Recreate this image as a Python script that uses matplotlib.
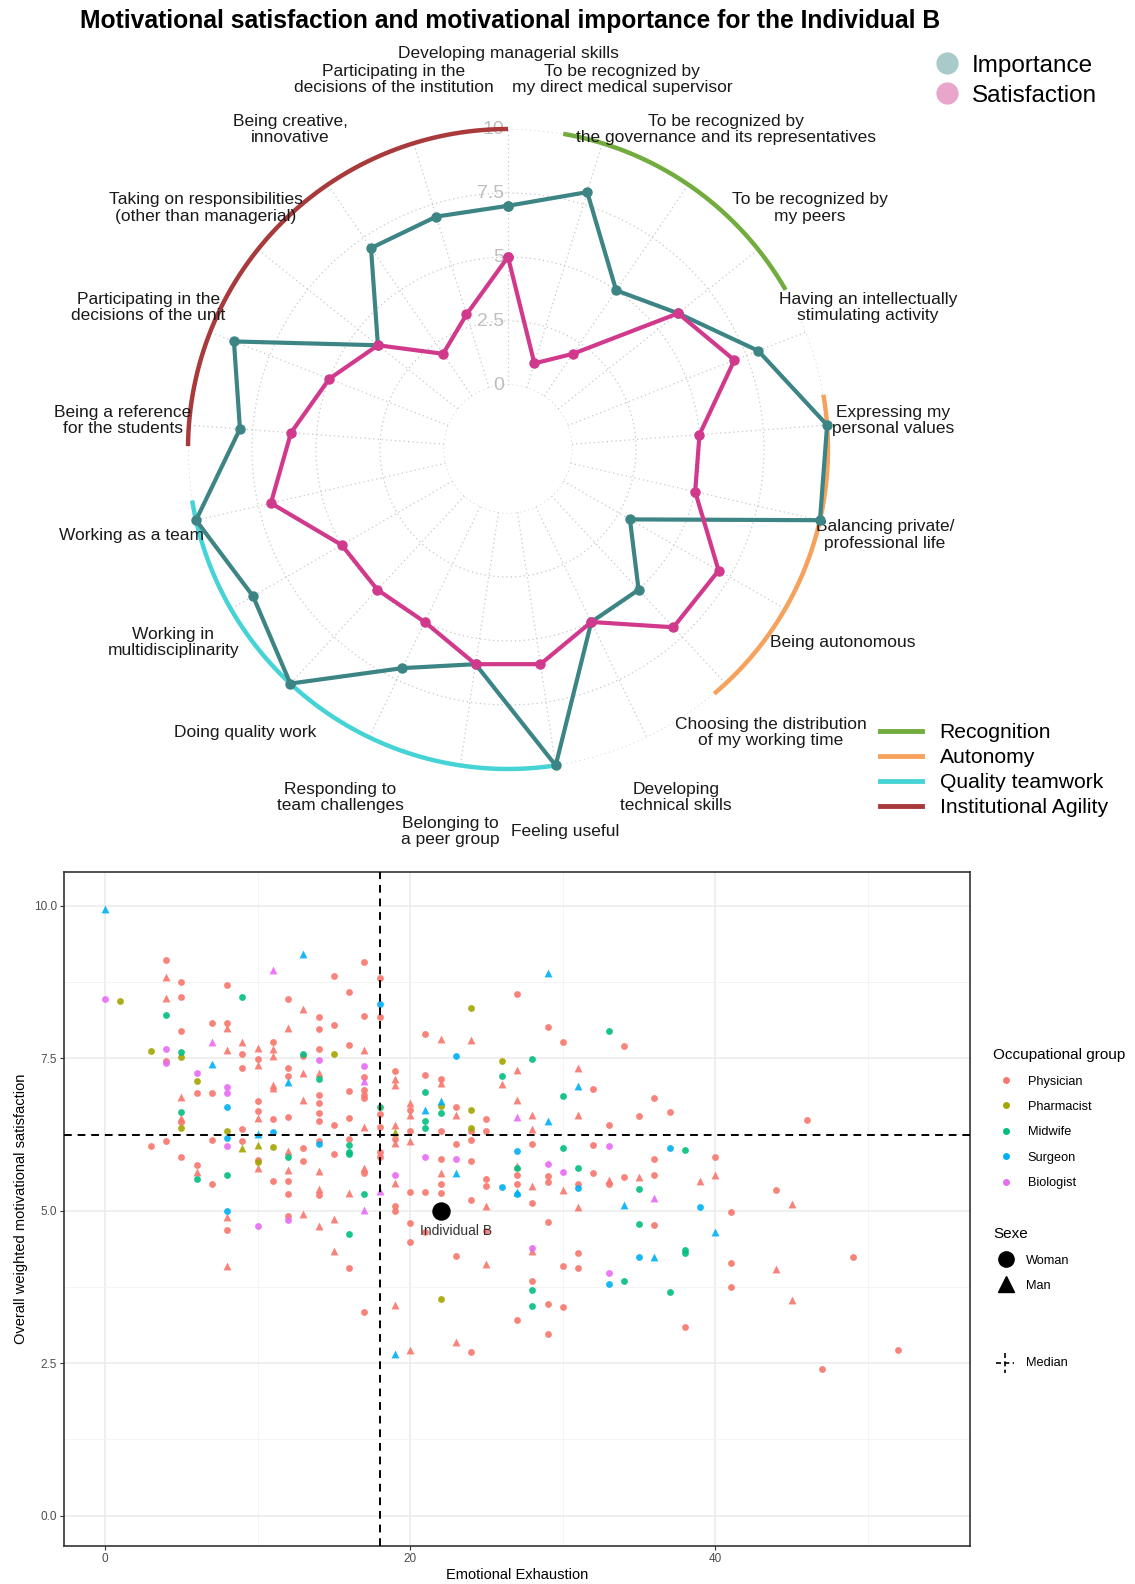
"""
Radar of motivational importance / satisfaction for one person, plus the
overall satisfaction vs emotional exhaustion scatter for the whole sample.
Saves out.png.
"""

import numpy as np
import matplotlib
matplotlib.use("Agg")  # non-interactive backend, saves to file
import matplotlib.pyplot as plt
import matplotlib.transforms as mtransforms
from matplotlib.lines import Line2D

plt.rcParams['font.family'] = ['Liberation Sans', 'DejaVu Sans']

W, H, DPI = 1135, 1584, 100

# ── Radar data ────────────────────────────────────────────────────────────────

ITEMS = [
    "Developing managerial skills",
    "To be recognized by\nmy direct medical supervisor",
    "To be recognized by\nthe governance and its representatives",
    "To be recognized by\nmy peers",
    "Having an intellectually\nstimulating activity",
    "Expressing my\npersonal values",
    "Balancing private/\nprofessional life",
    "Being autonomous",
    "Choosing the distribution\nof my working time",
    "Developing\ntechnical skills",
    "Feeling useful",
    "Belonging to\na peer group",
    "Responding to\nteam challenges",
    "Doing quality work",
    "Working in\nmultidisciplinarity",
    "Working as a team",
    "Being a reference\nfor the students",
    "Participating in the\ndecisions of the unit",
    "Taking on responsibilities\n(other than managerial)",
    "Being creative,\ninnovative",
    "Participating in the\ndecisions of the institution",
]
IMPORTANCE   = [7, 8, 5, 6, 8, 10, 10, 3, 5, 5, 10, 6, 7, 10, 9, 10, 8, 9, 4, 7, 7]
SATISFACTION = [5, 1, 2, 6, 7, 5, 5, 7, 7, 5, 6, 6, 5, 5, 5, 7, 6, 5, 4, 2, 3]
R_TICKS = [0, 2.5, 5, 7.5, 10]
R_TICK_LABELS = ["0", "2.5", "5", "7.5", "10"]

# outer arcs: extent of each dimension, in units of item index
DIMENSIONS = ["Recognition", "Autonomy", "Quality teamwork", "Institutional Agility"]
DIM_SPANS  = [(0.58, 3.51), (4.68, 8.16), (10.0, 15.21), (15.78, 21.0)]
DIM_COLORS = ["#72AC3E", "#F6A25C", "#45D3D6", "#A83A3C"]

TEAL = "#3D8585"
PINK = "#D13A8C"

# ── Scatter data: (emotional exhaustion, weighted satisfaction) ───────────────

PHYSICIAN_WOMAN = [
    (4, 9.11), (5, 8.74), (5, 8.50), (8, 8.70), (17, 9.07), (15, 8.84), (16, 8.58),
    (12, 8.47), (14, 8.17), (14, 7.98), (15, 8.04), (17, 8.19), (18, 8.82), (18, 8.17),
    (5, 7.95), (7, 8.07), (8, 8.08), (11, 7.76), (10, 7.49), (9, 7.57), (9, 7.34),
    (4, 7.45), (6, 6.92), (7, 6.93), (5, 6.45), (7, 6.16), (9, 6.33), (9, 6.14),
    (10, 6.79), (10, 6.63), (10, 5.83), (11, 6.50), (11, 5.48), (12, 7.34), (12, 7.20),
    (12, 6.53), (12, 5.48), (12, 5.27), (13, 7.53), (13, 6.02), (13, 5.82), (14, 7.65),
    (14, 6.90), (14, 6.76), (14, 6.60), (14, 6.46), (14, 6.14), (14, 5.25), (15, 6.41),
    (15, 5.93), (16, 7.71), (16, 6.96), (16, 6.52), (16, 6.18), (17, 7.19), (17, 6.98),
    (17, 6.90), (17, 6.85), (17, 5.61), (18, 6.58), (18, 6.37), (18, 5.96), (18, 5.88),
    (3, 6.06), (4, 6.14), (5, 5.87), (6, 5.74), (7, 5.44),
    (27, 8.55), (21, 7.90), (29, 8.01), (30, 7.77), (34, 7.70), (32, 6.99), (36, 6.85),
    (19, 7.29), (20, 6.65), (21, 7.23), (22, 7.15), (22, 6.31), (23, 6.69), (24, 6.30),
    (25, 6.50), (25, 6.30), (19, 6.18), (20, 6.30), (33, 6.40), (35, 6.55), (23, 6.09),
    (24, 6.15), (22, 5.85), (24, 5.81), (28, 6.09), (32, 6.08), (36, 5.85), (22, 5.43),
    (25, 5.51), (25, 5.40), (27, 5.59), (27, 5.43), (29, 5.56), (29, 5.46), (31, 5.44),
    (32, 5.62), (33, 5.44), (34, 5.55), (36, 5.58), (20, 5.31), (21, 5.31), (22, 5.28),
    (24, 5.17), (37, 6.62), (46, 6.48), (40, 5.87), (44, 5.34),
    (8, 4.68), (12, 4.91), (16, 4.05), (17, 3.34),
    (19, 5.08), (19, 5.00), (20, 4.79), (20, 4.48), (21, 4.64), (28, 5.13), (29, 4.82),
    (36, 4.77), (25, 4.66), (23, 4.26), (31, 4.31), (30, 4.09), (31, 4.06), (28, 3.84),
    (29, 3.46), (30, 3.42), (27, 3.20), (29, 2.97), (24, 2.68),
    (38, 3.09), (41, 4.98), (41, 4.14), (41, 3.74), (49, 4.23), (52, 2.72), (47, 2.40),
]
PHYSICIAN_MAN = [
    (4, 8.83), (4, 8.49), (13, 8.30), (12, 8.00), (8, 7.99), (9, 7.76), (8, 7.63),
    (10, 7.66), (11, 7.65), (11, 7.53), (10, 7.39), (5, 6.86), (5, 6.51), (10, 6.52),
    (11, 7.06), (11, 7.01), (12, 5.98), (12, 5.66), (13, 7.25), (13, 6.81), (14, 7.25),
    (14, 5.64), (14, 5.36), (16, 5.28), (17, 7.63), (17, 6.37), (17, 5.69), (10, 5.69),
    (6, 5.63),
    (22, 7.81), (24, 7.79), (27, 7.30), (31, 7.34), (26, 7.08), (27, 6.82), (19, 7.15),
    (19, 7.06), (20, 6.76), (20, 6.57), (22, 7.09), (23, 6.56), (19, 6.40), (19, 6.10),
    (20, 6.14), (28, 6.56), (28, 6.34), (31, 6.56), (22, 5.61), (19, 5.45), (27, 5.73),
    (28, 5.40), (30, 5.33), (33, 5.50), (35, 5.55), (40, 5.59), (39, 5.49),
    (8, 4.89), (8, 4.09), (13, 4.95), (14, 4.74), (15, 4.86), (15, 4.34),
    (25, 5.08), (31, 5.05), (25, 4.13), (28, 4.34), (19, 3.45), (23, 2.85), (20, 2.71),
    (45, 5.11), (44, 4.04), (45, 3.53),
]
PHARMACIST_WOMAN = [
    (1, 8.43), (3, 7.61), (5, 7.52), (6, 7.13), (5, 6.36), (8, 6.31), (10, 5.80),
    (11, 6.04), (15, 7.57), (24, 8.32), (26, 7.45), (22, 6.71), (24, 6.65), (24, 6.36),
    (22, 3.55),
]
PHARMACIST_MAN = [(9, 6.02), (10, 6.08), (19, 6.28)]
MIDWIFE_WOMAN = [
    (4, 8.20), (9, 8.50), (5, 7.60), (5, 6.62), (12, 5.87), (13, 7.56), (14, 7.16),
    (16, 6.07), (16, 5.96), (16, 5.92), (17, 5.27), (18, 6.70), (6, 5.51), (8, 5.59),
    (33, 7.94), (28, 7.49), (26, 7.20), (30, 6.87), (21, 6.94), (22, 6.60), (21, 6.47),
    (21, 6.36), (30, 6.02), (27, 5.70), (31, 5.70), (35, 5.35), (38, 6.00), (16, 4.62),
    (35, 4.78), (34, 3.84), (28, 3.70), (28, 3.44), (38, 4.36), (38, 4.31), (37, 3.67),
]
MIDWIFE_MAN = []
SURGEON_WOMAN = [
    (18, 8.39), (8, 6.69), (8, 6.19), (11, 6.29), (14, 6.09), (23, 7.54), (27, 5.98),
    (26, 5.38), (27, 5.27), (31, 5.37), (37, 6.03), (8, 4.99), (33, 3.80), (35, 4.24),
    (39, 5.05),
]
SURGEON_MAN = [
    (0, 9.95), (13, 9.20), (7, 7.41), (12, 7.11), (10, 6.26), (29, 8.89), (31, 7.04),
    (22, 6.79), (21, 6.65), (29, 6.46), (23, 5.62), (27, 5.30), (34, 5.09), (36, 4.24),
    (40, 4.64), (19, 2.65),
]
BIOLOGIST_WOMAN = [
    (0, 8.47), (4, 7.64), (4, 7.42), (6, 7.25), (8, 7.03), (8, 6.92), (8, 6.06),
    (14, 7.47), (17, 7.37), (21, 5.87), (23, 5.85), (33, 6.05), (19, 5.58), (29, 5.76),
    (30, 5.63), (10, 4.75), (12, 4.84), (28, 4.38), (33, 3.98),
]
BIOLOGIST_MAN = [(11, 8.95), (7, 7.77), (17, 7.12), (18, 5.32), (27, 6.53), (36, 5.20), (17, 5.01)]

GROUPS = ["Physician", "Pharmacist", "Midwife", "Surgeon", "Biologist"]
GROUP_COLORS = ["#F8766D", "#A3A500", "#00BF7D", "#00B0F6", "#E76BF3"]
GROUP_POINTS = [
    (PHYSICIAN_WOMAN, PHYSICIAN_MAN),
    (PHARMACIST_WOMAN, PHARMACIST_MAN),
    (MIDWIFE_WOMAN, MIDWIFE_MAN),
    (SURGEON_WOMAN, SURGEON_MAN),
    (BIOLOGIST_WOMAN, BIOLOGIST_MAN),
]
INDIVIDUAL_B = (22, 5.0)
MEDIAN_EE  = 18
MEDIAN_SAT = 6.24


def fx(px):
    return px / W


def fy(py):
    return 1 - py / H


fig = plt.figure(figsize=(W / DPI, H / DPI), dpi=DPI)

fig.text(fx(510), fy(21),
         "Motivational satisfaction and motivational importance for the Individual B",
         ha="center", va="center", fontsize=17.7, fontweight="bold")

# ── Radar ─────────────────────────────────────────────────────────────────────

CX, CY, R_OUT = 508, 449, 320
ax = fig.add_axes([fx(CX - R_OUT), fy(CY + R_OUT), 2 * R_OUT / W, 2 * R_OUT / H],
                  projection="polar")
ax.set_theta_zero_location("N")
ax.set_theta_direction(-1)
ax.set_ylim(0, 10)
ax.set_rorigin(-2.5)
ax.axis("off")

n = len(ITEMS)
step = 2 * np.pi / n
theta = np.arange(n) * step
circ = np.linspace(0, 2 * np.pi, 500)

grid_kw = dict(color="#C8C8C8", lw=0.9, ls=(0, (1, 2.5)), zorder=1)
for r in R_TICKS:
    ax.plot(circ, np.full_like(circ, r), **grid_kw)
for t in theta:
    ax.plot([t, t], [0, 10], **grid_kw)

lab_trans = mtransforms.offset_copy(ax.transData, fig=fig, x=-4, y=0, units="dots")
for r, lab in zip(R_TICKS, R_TICK_LABELS):
    ax.text(0, r, lab, transform=lab_trans, ha="right", va="center",
            fontsize=14, color="#BEBEBE", zorder=2)

for (a, b), col in zip(DIM_SPANS, DIM_COLORS):
    t = np.linspace(a, b, 200) * step
    ax.plot(t, np.full_like(t, 10), color=col, lw=3.2, solid_capstyle="butt",
            zorder=3, clip_on=False)

th_closed = np.append(theta, theta[0])
ax.plot(th_closed, np.append(IMPORTANCE, IMPORTANCE[0]), color=TEAL, lw=3,
        marker="o", ms=6.5, zorder=4, clip_on=False)
ax.plot(th_closed, np.append(SATISFACTION, SATISFACTION[0]), color=PINK, lw=3,
        marker="o", ms=6.5, zorder=5, clip_on=False)

for i, (t, lab) in enumerate(zip(theta, ITEMS)):
    r_lab = 12.95 if i == 0 else 12.6
    ax.text(t, r_lab, lab, ha="center", va="center", fontsize=12.5,
            color="#1A1A1A", linespacing=1.1, clip_on=False)

fig.legend(handles=[Line2D([], [], ls="", marker="o", ms=16, mfc="#A9CACA", mec="none"),
                    Line2D([], [], ls="", marker="o", ms=16, mfc="#E8A6CB", mec="none")],
           labels=["Importance", "Satisfaction"], loc="upper left",
           bbox_to_anchor=(fx(923), fy(45)), frameon=False, fontsize=17.5,
           handlelength=1.2, handletextpad=0.4, labelspacing=0.32, borderaxespad=0)

fig.legend(handles=[Line2D([], [], color=c, lw=3.5) for c in DIM_COLORS],
           labels=DIMENSIONS, loc="upper left", bbox_to_anchor=(fx(872), fy(715)),
           frameon=False, fontsize=15.2, handlelength=1.95, handletextpad=0.85,
           labelspacing=0.28, borderaxespad=0)

# ── Scatter ───────────────────────────────────────────────────────────────────

TOP, BOT, LEFT, RIGHT = 872, 1546, 64, 970
ax2 = fig.add_axes([fx(LEFT), fy(BOT), (RIGHT - LEFT) / W, (BOT - TOP) / H])

for (women, men), col in zip(GROUP_POINTS, GROUP_COLORS):
    for pts, mk in ((women, "o"), (men, "^")):
        if not pts:
            continue
        x, y = zip(*pts)
        ax2.scatter(x, y, s=24 if mk == "o" else 32, marker=mk, color=col,
                    alpha=0.9, lw=0, zorder=3)

ax2.axvline(MEDIAN_EE, color="black", ls=(0, (4, 3)), lw=1.4, zorder=4)
ax2.axhline(MEDIAN_SAT, color="black", ls=(0, (4, 3)), lw=1.4, zorder=4)

ax2.scatter(*INDIVIDUAL_B, s=150, color="black", zorder=5)
ax2.annotate("Individual B", INDIVIDUAL_B, xytext=(11, -15), textcoords="offset points",
             ha="center", va="center", fontsize=10, color="#333333", zorder=6)

ax2.set_xlim(-2.7, 56.7)
ax2.set_ylim(-0.5, 10.55)
ax2.set_xticks([0, 20, 40])
ax2.set_xticks([10, 30, 50], minor=True)
ax2.set_yticks([0, 2.5, 5, 7.5, 10])
ax2.set_yticklabels(["0.0", "2.5", "5.0", "7.5", "10.0"])
ax2.set_yticks([1.25, 3.75, 6.25, 8.75], minor=True)
ax2.grid(which="major", color="#EBEBEB", lw=1.1)
ax2.grid(which="minor", color="#F4F4F4", lw=0.7)
ax2.set_axisbelow(True)
ax2.tick_params(which="major", length=3, color="#333333", labelsize=8.5,
                labelcolor="#4D4D4D", pad=2)
ax2.tick_params(which="minor", length=0)
for sp in ax2.spines.values():
    sp.set_color("#333333")
    sp.set_linewidth(1.2)
ax2.set_xlabel("Emotional Exhaustion", fontsize=10.5, labelpad=2)
ax2.set_ylabel("Overall weighted motivational satisfaction", fontsize=10.5, labelpad=4)

fig.legend(handles=[Line2D([], [], ls="", marker="o", ms=5, mfc=c, mec="none")
                    for c in GROUP_COLORS],
           labels=GROUPS, title="Occupational group", loc="upper left",
           bbox_to_anchor=(fx(988), fy(1043)), frameon=False, fontsize=9.2,
           title_fontsize=11, alignment="left", labelspacing=1.05,
           handletextpad=0.7, borderaxespad=0)
fig.legend(handles=[Line2D([], [], ls="", marker="o", ms=11, color="black"),
                    Line2D([], [], ls="", marker="^", ms=12, color="black")],
           labels=["Woman", "Man"], title="Sexe", loc="upper left",
           bbox_to_anchor=(fx(988), fy(1222)), frameon=False, fontsize=9.2,
           title_fontsize=11, alignment="left", labelspacing=1.05,
           handletextpad=0.6, borderaxespad=0)

# median key: small dashed cross
mx, my = 1005, 1363
fig.add_artist(Line2D([fx(mx - 9), fx(mx + 9)], [fy(my), fy(my)], color="black",
                      lw=1.2, ls=(0, (3, 2)), transform=fig.transFigure))
fig.add_artist(Line2D([fx(mx), fx(mx)], [fy(my - 10), fy(my + 10)], color="black",
                      lw=1.2, ls=(0, (3, 2)), transform=fig.transFigure))
fig.text(fx(1026), fy(my), "Median", ha="left", va="center", fontsize=9.2)

fig.savefig("out.png", dpi=DPI)
